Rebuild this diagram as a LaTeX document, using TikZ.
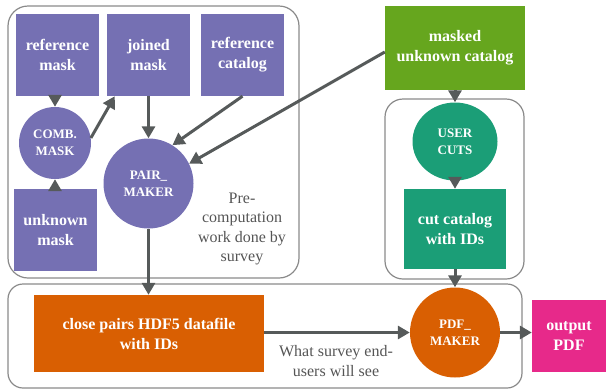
\documentclass[tikz,border=0pt]{standalone}
\usepackage{fontspec}
\setmainfont{Liberation Serif}
\newfontfamily\diagfont{Liberation Serif}
\usetikzlibrary{arrows.meta,shapes.geometric}
\tikzset{>={Triangle[length=12pt,width=13pt]}}
\definecolor{maskpurple}{HTML}{7570B3}
\definecolor{catgreen}{HTML}{66A61E}
\definecolor{cutteal}{HTML}{1B9E77}
\definecolor{pairorange}{HTML}{D95F02}
\definecolor{outpink}{HTML}{E7298A}
\definecolor{arrgray}{HTML}{565A5A}
\definecolor{grpgray}{HTML}{8A8A8A}
\definecolor{notegray}{HTML}{555555}

\begin{document}
\begin{tikzpicture}[x=1pt,y=-1pt,
	box/.style={fill=#1, text=white, font=\diagfont\fontsize{16}{20}\selectfont\bfseries, align=center, inner sep=0pt},
	proc/.style={circle, fill=#1, text=white, font=\diagfont\fontsize{13}{17}\selectfont\bfseries, align=center, inner sep=0pt},
	group/.style={draw=grpgray, line width=1.2pt, rounded corners=#1},
	note/.style={text=notegray, font=\diagfont\fontsize{16}{19.5}\selectfont, align=center},
	flow/.style={->, draw=arrgray, line width=3pt}]
		\useasboundingbox (0,0) rectangle (606,389);
		% grouping frames
		\draw[group=20pt] (8,6) rectangle (299,278);
		\draw[group=18pt] (385,99) rectangle (524,279);
		\draw[group=15pt] (8,284) rectangle (522,388);
		% pre-computation part
		\node[box=maskpurple, minimum width=83pt, minimum height=82pt] (refmask) at (57.5,55) {reference\\mask};
		\node[box=maskpurple, minimum width=83pt, minimum height=82pt] (joinmask) at (148.5,55) {joined\\mask};
		\node[box=maskpurple, minimum width=83pt, minimum height=82pt] (refcat) at (242.5,55) {reference\\catalog};
		\node[box=maskpurple, minimum width=83pt, minimum height=82pt] (unkmask) at (55.5,230) {unknown\\mask};
		\node[proc=maskpurple, minimum size=72pt] (combmask) at (55,143) {COMB.\\MASK};
		\node[proc=maskpurple, minimum size=90pt] (pairmaker) at (148.5,183.5) {PAIR\_\\MAKER};
		\node[note] (prenote) at (242,229) {Pre-\\computation\\work done by\\survey};
		% user part
		\node[box=catgreen, minimum width=140pt, minimum height=84pt] (maskcat) at (455,48) {masked\\unknown catalog};
		\node[proc=cutteal, ellipse, minimum width=85pt, minimum height=78pt] (usercuts) at (455,141.5) {USER\\CUTS};
		\node[box=cutteal, minimum width=102pt, minimum height=80pt] (cutcat) at (455,229) {cut catalog\\with IDs};
		% end-user part
		\node[box=pairorange, minimum width=230pt, minimum height=77pt] (pairsfile) at (149,333.5) {close pairs HDF5 datafile\\with IDs};
		\node[proc=pairorange, minimum size=90pt] (pdfmaker) at (455,332.5) {PDF\_\\MAKER};
		\node[box=outpink, minimum width=74pt, minimum height=72pt] (output) at (569,336) {output\\PDF};
		\node[note] (endnote) at (336,361) {What survey end-\\users will see};
		% flows
		\draw[flow] (refmask.south -| combmask.north) -- (combmask.north);
		\draw[flow] (unkmask.north -| combmask.south) -- (combmask.south);
		\draw[flow] (combmask.8) -- ([xshift=8pt]joinmask.south west);
		\draw[flow] (joinmask.south -| pairmaker.north) -- (pairmaker.north);
		\draw[flow] (refcat.south) -- (pairmaker.58);
		\draw[flow] ([yshift=-4pt]maskcat.west) -- (pairmaker.26);
		\draw[flow] (maskcat.south) -- (usercuts.north);
		\draw[flow] (usercuts.south) -- (cutcat.north);
		\draw[flow] (cutcat.south) -- (pdfmaker.north);
		\draw[flow] (pairmaker.south) -- (pairmaker.south |- pairsfile.north);
		\draw[flow] (pairsfile.east |- pdfmaker.west) -- (pdfmaker.west);
		\draw[flow] (pdfmaker.east) -- (pdfmaker.east -| output.west);
	\end{tikzpicture}
\end{document}
